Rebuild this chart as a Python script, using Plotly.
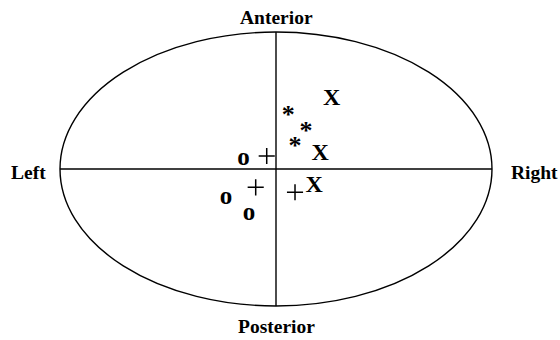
import plotly.graph_objects as go

# Orientation map: unit ellipse with anatomical axes
labels = ["Anterior", "Posterior", "Left", "Right"]
label_x = [0.0, 0.0, -1.148, 1.197]
label_y = [1.109, -1.153, -0.029, -0.029]

# Observation groups, each drawn with its own glyph
group_x = {
    "X": [0.258, 0.204, 0.177],
    "*": [0.057, 0.139, 0.088],
    "+": [-0.043, -0.094, 0.088],
    "o": [-0.151, -0.231, -0.125],
}
group_y = {
    "X": [0.509, 0.109, -0.124],
    "*": [0.386, 0.269, 0.154],
    "+": [0.095, -0.134, -0.170],
    "o": [0.073, -0.207, -0.324],
}
glyph_size = {"X": 24, "*": 26, "o": 25}

serif = "Liberation Serif, Times New Roman, serif"

fig = go.Figure()
for glyph in ["X", "*", "o"]:
    xs, ys = group_x[glyph], group_y[glyph]
    fig.add_trace(go.Scatter(
        x=xs, y=ys, mode="text", text=[glyph] * len(xs),
        textposition="middle center",
        textfont=dict(family=serif, size=glyph_size[glyph], color="black",
                      weight="bold"),
        showlegend=False, hoverinfo="skip",
    ))

# the "+" group is drawn as thin cross markers
fig.add_trace(go.Scatter(
    x=group_x["+"], y=group_y["+"], mode="markers",
    marker=dict(symbol="cross-thin", size=11.5, color="black",
                line=dict(color="black", width=1.5)),
    showlegend=False, hoverinfo="skip",
))

line_style = dict(color="black", width=1.4)
fig.add_shape(type="circle", x0=-1, x1=1, y0=-1, y1=1, line=line_style)
fig.add_shape(type="line", x0=-1, x1=1, y0=0, y1=0, line=line_style)
fig.add_shape(type="line", x0=0, x1=0, y0=-1, y1=1, line=line_style)

for txt, lx, ly in zip(labels, label_x, label_y):
    fig.add_annotation(
        x=lx, y=ly, text=f"<b>{txt}</b>", showarrow=False,
        xanchor="center", yanchor="middle",
        font=dict(family=serif, size=19.5, color="black"),
    )

fig.update_xaxes(range=[-1.2778, 1.3148], visible=False, fixedrange=True)
fig.update_yaxes(range=[-1.2482, 1.2336], visible=False, fixedrange=True)
fig.update_layout(
    width=560, height=340, margin=dict(l=0, r=0, t=0, b=0),
    paper_bgcolor="white", plot_bgcolor="white",
)
fig.write_html("out.html")
